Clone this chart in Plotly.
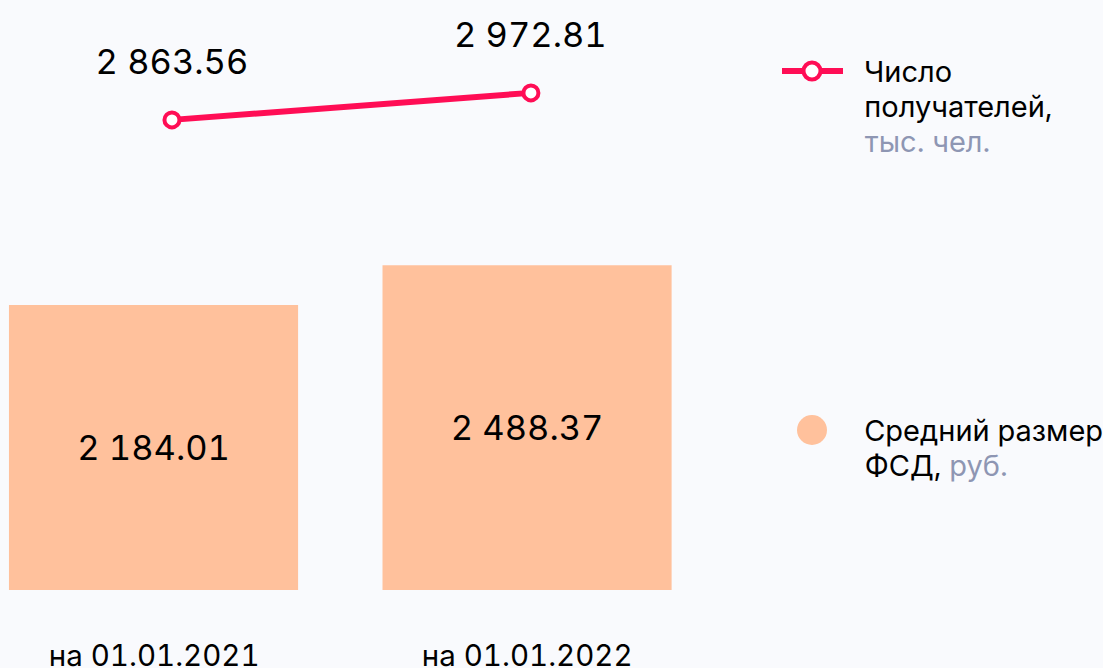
import plotly.graph_objects as go

categories = ["на 01.01.2021", "на 01.01.2022"]
avg_fsd = [2184.01, 2488.37]          # Средний размер ФСД, руб.
recipients = [2863.56, 2972.81]       # Число получателей, тыс. чел.
bar_labels = ["2 184.01", "2 488.37"]
line_labels = ["2 863.56", "2 972.81"]
legend_line_text = ["Число", "получателей,", "<span style='color:#8e96b3'>тыс. чел.</span>"]
legend_bar_text = ["Средний размер", "ФСД, <span style='color:#8e96b3'>руб.</span>"]

BG = "#f9fafd"
PEACH = "#ffc19c"
PINK = "#ff0d55"
FONT = "Inter"

W_PLOT, H_PLOT = 700, 590
xpos = [0, 1]

fig = go.Figure()

fig.add_trace(go.Bar(
    x=xpos, y=avg_fsd, width=0.774, marker=dict(color=PEACH, line=dict(width=0)),
    text=bar_labels, textposition="inside", insidetextanchor="middle",
    textfont=dict(family=FONT, size=34.5, color="#000000"),
    showlegend=False, hoverinfo="skip", xaxis="x", yaxis="y",
))

fig.add_trace(go.Scatter(
    x=xpos, y=recipients, mode="lines+markers",
    line=dict(color=PINK, width=6),
    marker=dict(size=15, color="white", line=dict(color=PINK, width=4)),
    showlegend=False, hoverinfo="skip", xaxis="x2", yaxis="y2",
))

annotations = []
for xi, v, t in zip(xpos, recipients, line_labels):
    annotations.append(dict(x=xi, y=v, xref="x2", yref="y2", text=t, showarrow=False,
                            yanchor="middle", yshift=58,
                            font=dict(family=FONT, size=34.5, color="#000000")))
for xi, c in zip(xpos, categories):
    annotations.append(dict(x=xi, y=0, xref="x", yref="y", text=c, showarrow=False,
                            yanchor="middle", yshift=-65,
                            font=dict(family=FONT, size=29.5, color="#000000")))

def px_x(p):
    return p / W_PLOT

def px_y(p):
    return (H_PLOT - p) / H_PLOT

# legend texts, one annotation per line
for i, t in enumerate(legend_line_text):
    annotations.append(dict(x=px_x(862), y=px_y(71 + 35 * i), xref="paper", yref="paper",
                            xanchor="left", yanchor="middle", showarrow=False, text=t,
                            font=dict(family=FONT, size=29, color="#000000")))
for i, t in enumerate(legend_bar_text):
    annotations.append(dict(x=px_x(862), y=px_y(430 + 35 * i), xref="paper", yref="paper",
                            xanchor="left", yanchor="middle", showarrow=False, text=t,
                            font=dict(family=FONT, size=29, color="#000000")))

shapes = [
    dict(type="line", xref="paper", yref="paper", x0=px_x(782), x1=px_x(843), y0=px_y(71), y1=px_y(71),
         line=dict(color=PINK, width=6)),
    dict(type="circle", xref="paper", yref="paper", x0=px_x(803.5), x1=px_x(820.5),
         y0=px_y(79.5), y1=px_y(62.5), fillcolor="white", line=dict(color=PINK, width=4)),
    dict(type="circle", xref="paper", yref="paper", x0=px_x(797), x1=px_x(827),
         y0=px_y(445), y1=px_y(415), fillcolor=PEACH, line=dict(width=0)),
]

fig.update_layout(
    width=1103, height=668,
    margin=dict(l=0, r=1103 - W_PLOT, t=0, b=668 - H_PLOT),
    paper_bgcolor=BG, plot_bgcolor=BG,
    xaxis=dict(range=[-0.411, 1.463], visible=False, fixedrange=True),
    xaxis2=dict(range=[-0.479, 1.471], visible=False, overlaying="x", fixedrange=True),
    yaxis=dict(range=[0, 4521], visible=False, fixedrange=True),
    yaxis2=dict(range=[961.4, 3348.6], visible=False, overlaying="y", fixedrange=True),
    annotations=annotations, shapes=shapes,
    showlegend=False,
)

post = (
    "document.body.style.margin='0';"
    "document.body.style.overflow='hidden';"
    "document.body.style.background='%s';"
    "var s=document.createElement('style');"
    "s.textContent='svg text{font-feature-settings:\"tnum\" 1;}';"
    "document.head.appendChild(s);"
) % BG

fig.write_html("out.html", config={"displayModeBar": False}, post_script=post)
